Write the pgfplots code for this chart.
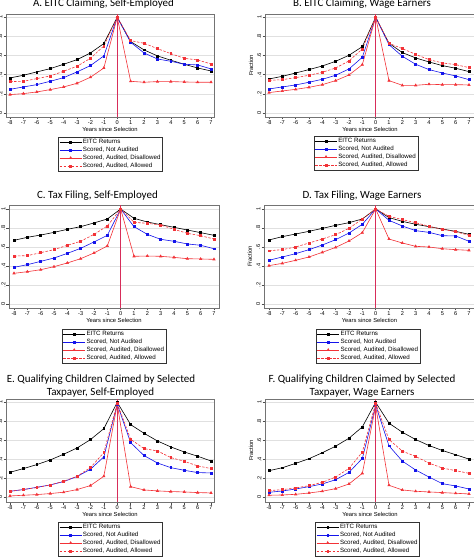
\documentclass[border=0pt]{standalone}
\usepackage{fontspec}
\setmainfont{Liberation Sans}
\newfontfamily\titlefont{Carlito}
\usepackage{pgfplots}
\usepackage{pgfplotstable}
\pgfplotsset{compat=1.18}

\definecolor{sred}{RGB}{242,50,55}
\definecolor{sblue}{RGB}{20,20,235}
\definecolor{zerolinecol}{RGB}{215,45,90}

\pgfplotstableread{
x eitc notaud disal allow
-8 .366 .247 .192 .328
-7 .394 .272 .202 .331
-6 .429 .296 .220 .359
-5 .463 .331 .244 .387
-4 .509 .369 .272 .436
-3 .557 .429 .310 .488
-2 .627 .495 .373 .571
-1 .725 .596 .470 .700
0 1 1 1 1
1 .746 .739 .331 .756
2 .659 .627 .321 .728
3 .596 .564 .328 .672
4 .551 .540 .328 .620
5 .509 .509 .324 .571
6 .470 .502 .321 .554
7 .439 .460 .321 .512
}\tabA
\pgfplotstableread{
x eitc notaud disal allow
-8 .355 .251 .213 .341
-7 .383 .272 .230 .348
-6 .418 .293 .247 .369
-5 .453 .321 .268 .394
-4 .491 .352 .296 .425
-3 .540 .394 .338 .470
-2 .603 .460 .397 .544
-1 .693 .582 .505 .669
0 1 1 1 1
1 .728 .714 .338 .728
2 .631 .592 .289 .672
3 .575 .509 .289 .613
4 .533 .453 .300 .557
5 .495 .418 .296 .523
6 .467 .387 .296 .505
7 .432 .348 .293 .474
}\tabB
\pgfplotstableread{
x eitc notaud disal allow
-8 .670 .386 .323 .505
-7 .702 .414 .340 .509
-6 .726 .449 .361 .540
-5 .754 .484 .393 .572
-4 .786 .533 .432 .618
-3 .814 .586 .477 .660
-2 .853 .653 .537 .733
-1 .895 .723 .611 .821
0 1 1 1 1
1 .902 .814 .502 .860
2 .863 .733 .505 .849
3 .835 .681 .502 .832
4 .807 .660 .491 .786
5 .779 .632 .477 .744
6 .751 .618 .474 .719
7 .723 .582 .470 .684
}\tabC
\pgfplotstableread{
x eitc notaud disal allow
-8 .674 .460 .404 .561
-7 .709 .495 .428 .572
-6 .737 .530 .460 .600
-5 .765 .572 .495 .642
-4 .796 .621 .544 .684
-3 .828 .677 .596 .730
-2 .856 .747 .663 .796
-1 .895 .839 .751 .895
0 1 1 1 1
1 .909 .881 .684 .923
2 .870 .821 .642 .888
3 .839 .772 .607 .856
4 .814 .754 .600 .818
5 .789 .719 .582 .786
6 .765 .716 .572 .761
7 .733 .660 .565 .723
}\tabD
\pgfplotstableread{
x eitc notaud disal allow
-8 .263 .063 .014 .063
-7 .302 .081 .021 .081
-6 .344 .105 .028 .102
-5 .393 .130 .039 .130
-4 .453 .165 .053 .168
-3 .519 .218 .081 .221
-2 .607 .295 .123 .312
-1 .723 .425 .221 .470
0 1 .98 .98 .99
1 .765 .575 .112 .611
2 .674 .439 .077 .512
3 .593 .361 .067 .488
4 .530 .312 .060 .418
5 .477 .284 .056 .379
6 .432 .260 .049 .330
7 .382 .256 .046 .302
}\tabE
\pgfplotstableread{
x eitc notaud disal allow
-8 .280 .052 .021 .070
-7 .311 .066 .024 .080
-6 .357 .087 .031 .098
-5 .406 .112 .045 .122
-4 .469 .140 .063 .157
-3 .538 .185 .091 .213
-2 .622 .262 .140 .304
-1 .741 .409 .252 .476
0 1 .97 .96 .99
1 .780 .542 .126 .608
2 .685 .381 .077 .486
3 .608 .287 .063 .430
4 .545 .213 .056 .360
5 .493 .143 .049 .308
6 .448 .119 .042 .280
7 .402 .087 .035 .252
}\tabF

\pgfplotsset{
  panel/.style={
    scale only axis, anchor=south west, height=103pt,
    xtick={-8,-7,...,7}, ytick={0,0.2,0.4,0.6,0.8,1}, yticklabels={0,.2,.4,.6,.8,1},
    tick pos=left, tick align=outside, major tick length=2.5pt,
    every tick/.style={black!70, line width=0.4pt},
    axis line style={black!55, line width=0.6pt},
    ymajorgrids, grid style={black!12, line width=0.5pt},
    ticklabel style={font=\fontsize{5.6}{6}\selectfont, inner sep=1pt},
    /pgf/number format/assume math mode=true,
    yticklabel style={rotate=90, anchor=south},
    xlabel={Years since Selection}, ylabel={Fraction},
    label style={font=\fontsize{5.8}{6.5}\selectfont},
    xlabel style={at={(0.5,-0.117)}, anchor=center, inner sep=0pt},
    ylabel style={at={(-0.067,0.5)}, anchor=center, inner sep=0pt},
    legend cell align=left,
    legend image code/.code={\draw[mark repeat=2,mark phase=2,##1] plot coordinates {(0pt,0pt) (11pt,0pt) (22pt,0pt)};},
    legend style={anchor=north, draw=black!80, line width=0.4pt, fill=white,
      font=\fontsize{6.2}{7}\selectfont, inner xsep=1pt, inner ysep=0.8pt, row sep=0pt,
      nodes={inner sep=1pt, text height=4.6pt, text depth=1.4pt}},
  },
  s1/.style={black, line width=0.6pt, mark=square*, mark size=0.9pt},
  s2/.style={sblue, line width=0.6pt, mark=square*, mark size=0.9pt},
  s3/.style={sred, line width=0.6pt, mark=triangle*, mark size=1.3pt},
  s4/.style={sred, line width=0.6pt, dash pattern=on 2.5pt off 1.5pt, mark=square*, mark size=0.9pt, mark options={solid}},
  zl/.style={draw=zerolinecol, line width=0.8pt, mark=none, forget plot},
}

\newcommand\series[1]{%
  \addplot[s1] table[x=x,y=eitc] {#1}; \addlegendentry{EITC Returns}
  \addplot[s2] table[x=x,y=notaud] {#1}; \addlegendentry{Scored, Not Audited}
  \addplot[s3] table[x=x,y=disal] {#1}; \addlegendentry{Scored, Audited, Disallowed}
  \addplot[s4] table[x=x,y=allow] {#1}; \addlegendentry{Scored, Audited, Allowed}
}

\begin{document}
\begin{tikzpicture}[x=1pt,y=1pt]
\useasboundingbox (0,0) rectangle (474,558);
\clip (0,0) rectangle (474,558);

% A
\begin{axis}[panel, at={(6pt,441pt)}, width=208pt, xmin=-8.3, xmax=7.22, ymin=-0.042, ymax=1.034,
  legend style={at={(0.502,-0.194)}}]
\series{\tabA}
\addplot[zl] coordinates {(0,-0.042) (0,1.034)};
\end{axis}
% B
\begin{axis}[panel, at={(265pt,441pt)}, width=210pt, xmin=-8.3, xmax=7.45, ymin=-0.042, ymax=1.034,
  legend style={at={(0.48,-0.184)}}]
\series{\tabB}
\addplot[zl] coordinates {(0,-0.042) (0,1.034)};
\end{axis}
% C
\begin{axis}[panel, at={(9pt,250pt)}, width=210pt, xmin=-8.375, xmax=7.375, ymin=-0.042, ymax=1.042,
  legend style={at={(0.5,-0.204)}}]
\series{\tabC}
\addplot[zl] coordinates {(0,-0.042) (0,1.042)};
\end{axis}
% D
\begin{axis}[panel, at={(264pt,250pt)}, width=211pt, xmin=-8.375, xmax=7.45, ymin=-0.042, ymax=1.042,
  legend style={at={(0.493,-0.204)}}]
\series{\tabD}
\addplot[zl] coordinates {(0,-0.042) (0,1.042)};
\end{axis}
% E
\begin{axis}[panel, at={(6pt,56pt)}, width=208pt, xmin=-8.3, xmax=7.22, ymin=-0.05, ymax=1.035,
  legend style={at={(0.502,-0.194)}}]
\series{\tabE}
\addplot[zl] coordinates {(0,-0.05) (0,1.035)};
\end{axis}
% F
\begin{axis}[panel, at={(265pt,56pt)}, width=210pt, xmin=-8.3, xmax=7.45, ymin=-0.05, ymax=1.035,
  legend style={at={(0.488,-0.194)}}]
\series{\tabF}
\addplot[zl] coordinates {(0,-0.05) (0,1.035)};
\end{axis}

% titles
\begin{scope}[every node/.style={anchor=base, inner sep=0pt, font=\titlefont\fontsize{11}{13}\selectfont}]
\node at (103.5,551) {A. EITC Claiming, Self-Employed};
\node at (362,551) {B. EITC Claiming, Wage Earners};
\node at (97.5,359) {C. Tax Filing, Self-Employed};
\node at (362,359) {D. Tax Filing, Wage Earners};
\node at (101,175.3) {E. Qualifying Children Claimed by Selected};
\node at (100.5,162.7) {Taxpayer, Self-Employed};
\node at (362,175.3) {F. Qualifying Children Claimed by Selected};
\node at (362,162.7) {Taxpayer, Wage Earners};
\end{scope}
\end{tikzpicture}
\end{document}
